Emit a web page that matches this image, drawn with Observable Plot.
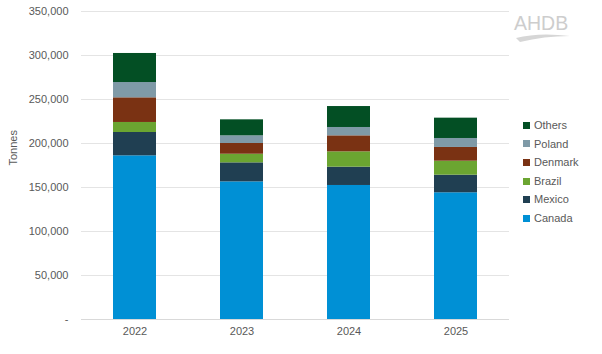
<!DOCTYPE html>
<html>
<head>
<meta charset="utf-8">
<script src="https://cdn.jsdelivr.net/npm/d3@7"></script>
<script src="https://cdn.jsdelivr.net/npm/@observablehq/plot@0.6"></script>
<style>
  html, body { margin: 0; padding: 0; background: #fff; }
  #wrap { position: relative; width: 602px; height: 354px; font-family: "Liberation Sans", Arial, sans-serif; }
  #legend { position: absolute; left: 523px; top: 116px; font-size: 11px; color: #595959; }
  #legend .row { height: 18.6px; line-height: 18.6px; display: flex; align-items: center; }
  #legend .sw { width: 7px; height: 7px; margin-right: 4px; }
  #logo { position: absolute; left: 514px; top: 12px; color: #cdcdcd; font-size: 19.5px; letter-spacing: 0px; }
</style>
</head>
<body>
<div id="wrap"></div>
<script>
const years = ["2022", "2023", "2024", "2025"];
const countries = ["Canada", "Mexico", "Brazil", "Denmark", "Poland", "Others"];
const canada  = [186000, 156400, 152300, 144000];
const mexico  = [26500, 21600, 20800, 20000];
const brazil  = [11400, 9800, 17400, 15900];
const denmark = [28000, 12200, 18200, 15600];
const poland  = [17400, 8700, 9500, 10200];
const others  = [33000, 18200, 23800, 23100];
const colors  = ["#0090d5", "#203f52", "#6ba531", "#7a3213", "#7f9aa7", "#034f24"];
const yTicks  = [0, 50000, 100000, 150000, 200000, 250000, 300000, 350000];

const series = [canada, mexico, brazil, denmark, poland, others];
const data = [];
countries.forEach((c, i) => years.forEach((y, j) => data.push({year: y, country: c, value: series[i][j]})));

const fmt = d => d === 0 ? "-" : d3.format(",")(d);

const chart = Plot.plot({
  width: 602,
  height: 354,
  marginLeft: 81,
  marginRight: 93,
  marginTop: 11,
  marginBottom: 35,
  style: {fontFamily: "'Liberation Sans', Arial, sans-serif", fontSize: "11px", color: "#595959", background: "#fff"},
  x: {domain: years, paddingInner: 0.6, paddingOuter: 0.3, label: null, tickSize: 0, tickPadding: 8},
  y: {domain: [0, 350000], ticks: yTicks, tickFormat: fmt, label: null, tickSize: 0, tickPadding: 13},
  color: {domain: countries, range: colors},
  marks: [
    Plot.gridY(yTicks, {stroke: "#e4e4e4", strokeOpacity: 1}),
    Plot.barY(data, {x: "year", y: "value", fill: "country", order: countries}),
    Plot.ruleY([0], {stroke: "#d9d9d9"}),
    Plot.text(["Tonnes"], {frameAnchor: "left", dx: -68, rotate: -90, fill: "#595959", fontSize: 11})
  ]
});
const wrap = document.getElementById("wrap");
wrap.appendChild(chart);

const legend = document.createElement("div");
legend.id = "legend";
countries.slice().reverse().forEach(c => {
  const row = document.createElement("div");
  row.className = "row";
  const sw = document.createElement("span");
  sw.className = "sw";
  sw.style.background = colors[countries.indexOf(c)];
  const t = document.createElement("span");
  t.textContent = c;
  row.appendChild(sw); row.appendChild(t);
  legend.appendChild(row);
});
wrap.appendChild(legend);

const logo = document.createElement("div");
logo.id = "logo";
logo.innerHTML = '<div>AHDB</div><svg width="60" height="12" style="position:absolute;left:0;top:20px"><path d="M2 6 Q 25 0 56 4 Q 30 4 6 10 Z" fill="#d6d6d6"/></svg>';
wrap.appendChild(logo);
</script>
</body>
</html>
